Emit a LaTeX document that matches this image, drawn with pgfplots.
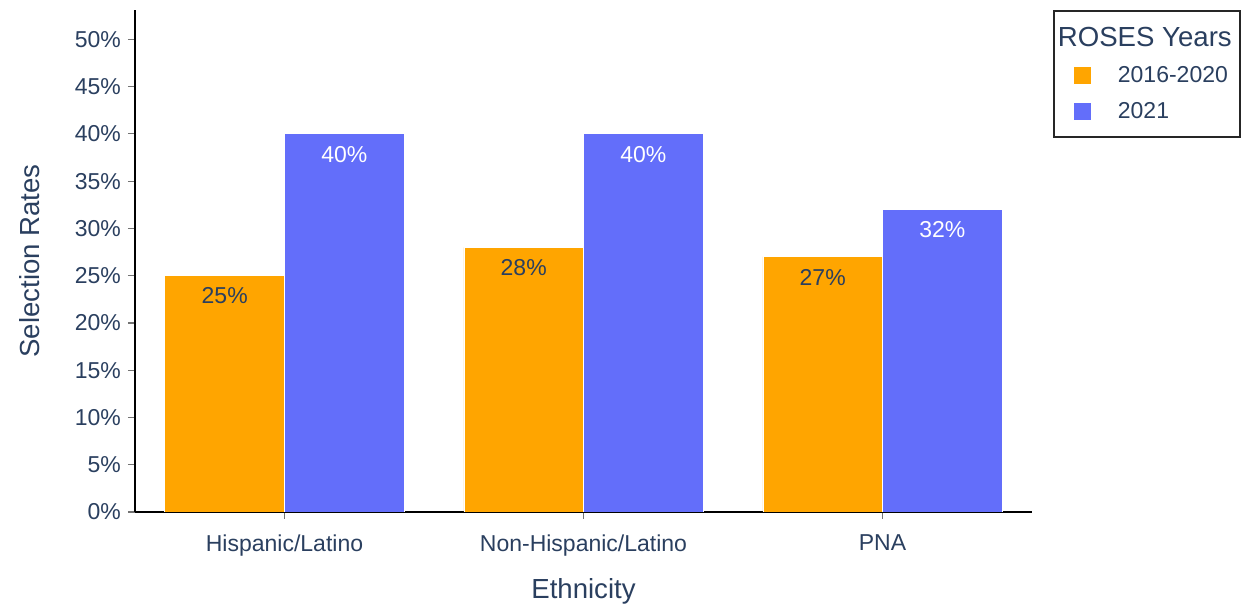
\documentclass[border=0pt]{standalone}
\usepackage{fontspec}
\setmainfont{Liberation Sans}
\usepackage{pgfplots}
\pgfplotsset{compat=1.18}
\definecolor{txt}{HTML}{2A3F5F}
\definecolor{orng}{HTML}{FFA500}
\definecolor{blu}{HTML}{636EFA}
\pgfplotsset{sq legend/.style={legend image code/.code={%
  \fill[#1, draw=none] (8pt,-4.25pt) rectangle (16.5pt,4.25pt);
  \path[draw=none, fill=none] (0pt,0pt) -- (28pt,0pt);}}}
\begin{document}
\begin{tikzpicture}
\begin{axis}[
  scale only axis, width=448.5pt, height=251pt,
  xmin=-0.5, xmax=2.5, ymin=0, ymax=53.1,
  axis lines*=left, axis line style={black, line width=1pt, -},
  xtick={0,1,2}, xticklabels={Hispanic/Latino, Non-Hispanic/Latino, PNA},
  ytick={0,5,...,50},
  yticklabel={\pgfmathprintnumber{\tick}\%},
  /pgf/number format/assume math mode=true,
  tick align=outside, major tick length=3.5pt,
  tick style={black!55, line width=0.6pt},
  ticklabel style={font=\fontsize{11.5}{13}\selectfont, text=txt},
  xticklabel style={yshift=-4.5pt},
  xlabel={Ethnicity}, ylabel={Selection Rates},
  label style={font=\fontsize{13.8}{16}\selectfont, text=txt},
  xlabel style={at={([yshift=-39.5pt]axis description cs:0.5,0)}, anchor=center},
  ylabel style={at={([xshift=-52.5pt]axis description cs:0,0.5)}, anchor=center},
  legend style={at={([xshift=10.5pt]axis description cs:1,1)}, anchor=north west,
    draw=black!85, line width=0.9pt, font=\fontsize{11.5}{13}\selectfont, text=txt,
    row sep=4.5pt, inner xsep=2pt, inner ysep=6pt},
  legend cell align=left,
]
\addlegendimage{empty legend}
\addlegendentry{\hspace{-30pt}\fontsize{13.8}{16}\selectfont ROSES Years}
\addplot[ybar, bar width=0.4, fill=orng, draw=white, line width=0.4pt,
  nodes near coords={\pgfmathprintnumber{\pgfplotspointmeta}\%},
  every node near coord/.append style={anchor=north, yshift=-2.6pt, text=txt,
    font=\fontsize{11.5}{13}\selectfont},
  sq legend=orng]
  coordinates {(-0.2,25) (0.8,28) (1.8,27)};
\addlegendentry{2016-2020}
\addplot[ybar, bar width=0.4, fill=blu, draw=white, line width=0.4pt,
  nodes near coords={\pgfmathprintnumber{\pgfplotspointmeta}\%},
  every node near coord/.append style={anchor=north, yshift=-2.6pt, text=white,
    font=\fontsize{11.5}{13}\selectfont},
  sq legend=blu]
  coordinates {(0.2,40) (1.2,40) (2.2,32)};
\addlegendentry{2021}
\end{axis}
\path (current axis.south west) ++(-67.5pt,-45.5pt) rectangle ++(624pt,301.5pt);
\end{tikzpicture}
\end{document}
